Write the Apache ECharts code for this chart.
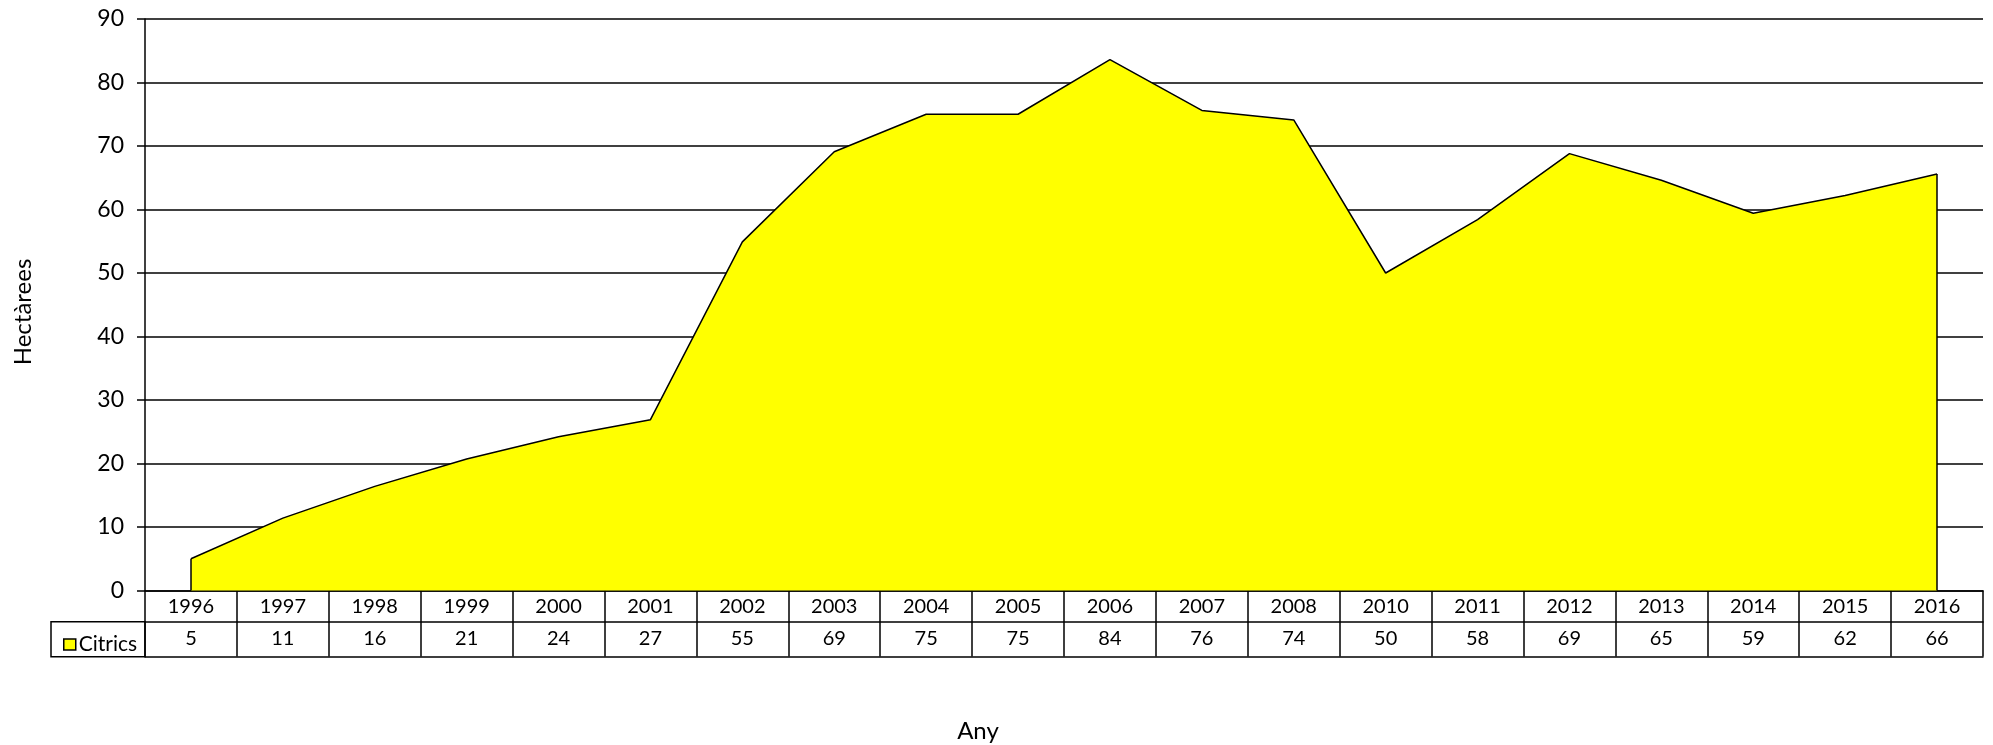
<!DOCTYPE html>
<html>
<head>
<meta charset="utf-8">
<script src="https://cdn.jsdelivr.net/npm/echarts@6/dist/echarts.min.js"></script>
<style>
html,body{margin:0;padding:0;background:#fff;}
#c{width:1993px;height:745px;}
</style>
</head>
<body>
<div id="c"></div>
<script>
var years = ['1996','1997','1998','1999','2000','2001','2002','2003','2004','2005','2006','2007','2008','2010','2011','2012','2013','2014','2015','2016'];
var citrics = [5.0, 11.4, 16.4, 20.7, 24.2, 26.9, 54.9, 69.1, 75.0, 75.0, 83.6, 75.6, 74.1, 50.0, 58.4, 68.8, 64.6, 59.4, 62.2, 65.6];
var tableLabels = ['5','11','16','21','24','27','55','69','75','75','84','76','74','50','58','69','65','59','62','66'];
var yTicks = [0, 10, 20, 30, 40, 50, 60, 70, 80, 90];

var FONT = 'Lato';
var chart = echarts.init(document.getElementById('c'));
var last = years.length - 1;
chart.setOption({
  animation: false,
  backgroundColor: '#fff',
  textStyle: { fontFamily: FONT, color: '#000' },
  grid: { left: 145, right: 10, top: 19, bottom: 154.5, containLabel: false, outerBoundsMode: 'none' },
  legend: {
    left: 58, top: 629,
    icon: 'rect', itemWidth: 12, itemHeight: 11, itemGap: 5,
    itemStyle: { color: '#ffff00', borderColor: '#000', borderWidth: 1.5 },
    textStyle: { fontFamily: FONT, fontSize: 21, color: '#000', padding: [0, 0, 0, -2] },
    data: ['Citrics']
  },
  xAxis: [
    {
      type: 'category', data: years, boundaryGap: true, position: 'bottom',
      axisLine: { show: true, lineStyle: { color: '#000', width: 1.5 } },
      axisTick: { show: true, interval: 0, length: 66, lineStyle: { color: '#000', width: 1.5 } },
      axisLabel: { interval: 0, margin: 6, fontSize: 20, color: '#000', fontFamily: FONT },
      splitLine: { show: false }
    },
    {
      type: 'category', data: years, boundaryGap: true, position: 'bottom', offset: 31.2,
      axisLine: { show: true, lineStyle: { color: '#000', width: 1.5 } },
      axisTick: { show: false },
      axisLabel: { interval: 0, margin: 7, fontSize: 20, color: '#000', fontFamily: FONT,
        formatter: function (v, i) { return tableLabels[i]; } },
      splitLine: { show: false }
    },
    {
      type: 'category', data: years, boundaryGap: true, position: 'bottom', offset: 66.2,
      axisLine: { show: true, lineStyle: { color: '#000', width: 1.5 } },
      axisTick: { show: false },
      axisLabel: { show: false },
      splitLine: { show: false }
    }
  ],
  yAxis: {
    type: 'value', min: yTicks[0], max: yTicks[yTicks.length - 1], interval: 10,
    axisLine: { show: true, lineStyle: { color: '#000', width: 1.5 } },
    axisTick: { show: true, length: 8, lineStyle: { color: '#000', width: 1.5 } },
    axisLabel: { margin: 21, fontSize: 23, color: '#000', fontFamily: FONT },
    splitLine: { show: true, lineStyle: { color: '#000', width: 1.5 } }
  },
  graphic: [
    { type: 'rect', shape: { x: 51, y: 621.7, width: 94, height: 35 },
      style: { fill: 'none', stroke: '#000', lineWidth: 1.5 }, z: 10 },
    { type: 'text', x: 23, y: 312, rotation: Math.PI / 2,
      style: { text: 'Hectàrees', fontSize: 24, fontFamily: FONT, fill: '#000', align: 'center', verticalAlign: 'middle' } },
    { type: 'text', x: 978, y: 731,
      style: { text: 'Any', fontSize: 24, fontFamily: FONT, fill: '#000', align: 'center', verticalAlign: 'middle' } }
  ],
  series: [{
    name: 'Citrics', type: 'line', data: citrics, symbol: 'none',
    lineStyle: { color: '#000', width: 1.5 },
    itemStyle: { color: '#ffff00' },
    areaStyle: { color: '#ffff00', opacity: 1 },
    z: 3,
    markLine: {
      silent: true, symbol: 'none', label: { show: false },
      lineStyle: { color: '#000', width: 1.5, type: 'solid' },
      data: [
        [{ coord: [years[0], 0] }, { coord: [years[0], citrics[0]] }],
        [{ coord: [years[last], 0] }, { coord: [years[last], citrics[last]] }]
      ]
    }
  }]
});
</script>
</body>
</html>
